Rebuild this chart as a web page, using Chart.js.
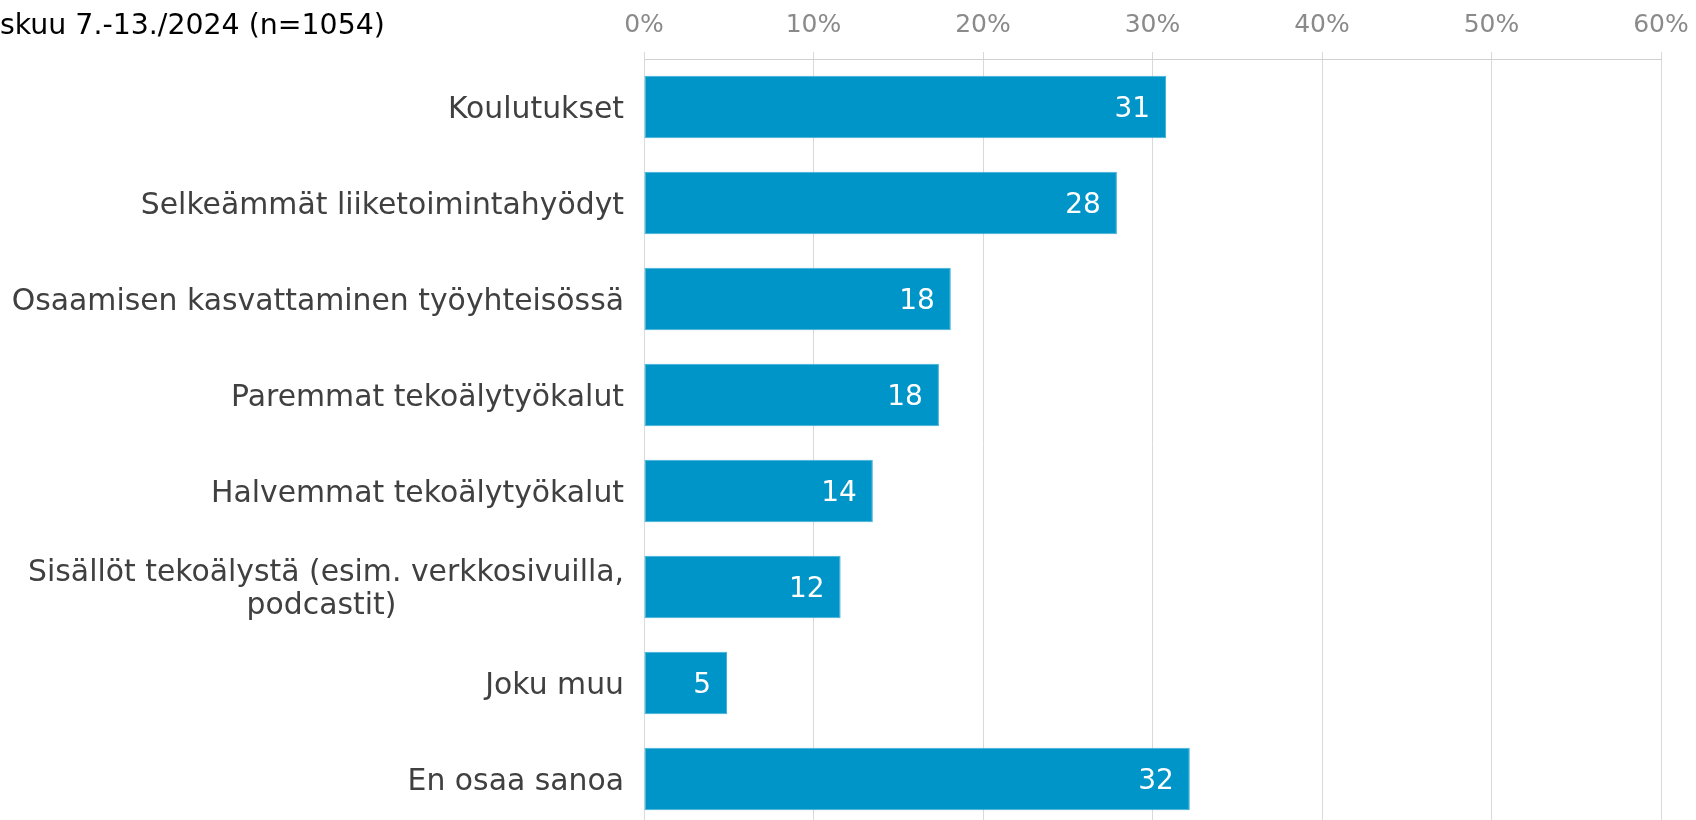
<!DOCTYPE html>
<html>
<head>
<meta charset="utf-8">
<script src="https://cdn.jsdelivr.net/npm/chart.js@4.4.1/dist/chart.umd.min.js"></script>
<style>
  html, body { margin: 0; padding: 0; background: #ffffff; overflow: hidden; width: 1696px; height: 820px; }
  #wrap { position: relative; width: 1696px; height: 828px; }
  #title { position: absolute; left: 0; top: 8px; font-family: "DejaVu Sans", Verdana, sans-serif; font-size: 28.4px; color: #000; white-space: nowrap; line-height: 34px; z-index: 2; }
</style>
</head>
<body>
<div id="wrap">
  <div id="title">skuu 7.-13./2024 (n=1054)</div>
  <canvas id="c" width="1696" height="828"></canvas>
</div>
<script>
const categories = [
  "Koulutukset",
  "Selkeämmät liiketoimintahyödyt",
  "Osaamisen kasvattaminen työyhteisössä",
  "Paremmat tekoälytyökalut",
  "Halvemmat tekoälytyökalut",
  ["Sisällöt tekoälystä (esim. verkkosivuilla,", "podcastit)"],
  "Joku muu",
  "En osaa sanoa"
];
const values = [30.8, 27.9, 18.1, 17.4, 13.5, 11.6, 4.9, 32.2];
const dataLabels = ["31", "28", "18", "18", "14", "12", "5", "32"];
const tickValues = [0, 10, 20, 30, 40, 50, 60];

const FONT = '"DejaVu Sans", Verdana, sans-serif';

// second line of the wrapped label is centred under the first one
function padSecondLine(ctxFont, lines) {
  const cv = document.createElement('canvas').getContext('2d');
  cv.font = ctxFont;
  const w1 = cv.measureText(lines[0]).width;
  const w2 = cv.measureText(lines[1]).width;
  const target = (w1 - w2) / 2;
  const sp = cv.measureText('\u00a0').width;
  const n = Math.round(target / sp);
  return [lines[0], lines[1] + '\u00a0'.repeat(Math.max(0, n))];
}
const LABEL_FONT_SIZE = 29.85;
const yLabels = categories.map(c => Array.isArray(c) ? padSecondLine(LABEL_FONT_SIZE + 'px ' + FONT, c) : c);

const valueLabelPlugin = {
  id: 'valueLabels',
  afterDatasetsDraw(chart) {
    const ctx = chart.ctx;
    const meta = chart.getDatasetMeta(0);
    ctx.save();
    ctx.font = '28px ' + FONT;
    ctx.fillStyle = '#ffffff';
    ctx.textAlign = 'right';
    ctx.textBaseline = 'middle';
    meta.data.forEach((bar, i) => {
      ctx.fillText(dataLabels[i], bar.x - 16, bar.y + 3);
    });
    ctx.restore();
  }
};

new Chart(document.getElementById('c'), {
  type: 'bar',
  data: {
    labels: yLabels,
    datasets: [{
      data: values,
      backgroundColor: '#0095c8',
      borderColor: '#3fb0d9',
      borderWidth: 1,
      borderSkipped: false,
      categoryPercentage: 1.0,
      barPercentage: 0.653
    }]
  },
  options: {
    indexAxis: 'y',
    responsive: false,
    animation: false,
    devicePixelRatio: 1,
    layout: { padding: { left: 0, right: 35, top: 0, bottom: 1 } },
    plugins: { legend: { display: false }, tooltip: { enabled: false }, title: { display: false } },
    scales: {
      x: {
        position: 'top',
        min: 0,
        max: 60,
        afterBuildTicks(scale) { scale.ticks = tickValues.map(v => ({ value: v })); },
        afterFit(scale) { scale.height = 59; scale.paddingLeft = 0; scale.paddingRight = 0; },
        ticks: {
          callback: v => v + '%',
          color: '#8a8a8a',
          font: { family: FONT, size: 25 },
          padding: 12,
          maxRotation: 0
        },
        grid: { color: '#d9d9d9', lineWidth: 1, drawTicks: true, tickLength: 7, tickColor: '#d9d9d9' },
        border: { display: true, color: '#d0d0d0' }
      },
      y: {
        afterFit(scale) { scale.width = 644; scale.paddingTop = 0; scale.paddingBottom = 0; },
        ticks: {
          color: '#404040',
          font: { family: FONT, size: LABEL_FONT_SIZE, lineHeight: 1.1 },
          padding: 20,
          labelOffset: 3,
          autoSkip: false
        },
        grid: { display: false, drawTicks: false },
        border: { display: true, color: '#d9d9d9' }
      }
    }
  },
  plugins: [valueLabelPlugin]
});
</script>
</body>
</html>
